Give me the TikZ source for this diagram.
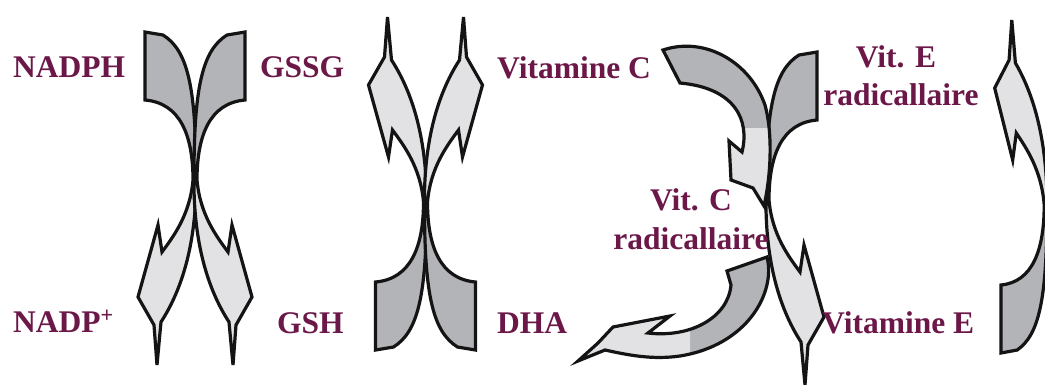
\documentclass[tikz,border=0pt]{standalone}
\usepackage{fontspec}
\setmainfont{Liberation Serif}
\definecolor{lab}{HTML}{6B1748}
\definecolor{darkf}{HTML}{B3B4B8}
\definecolor{lightf}{HTML}{E2E2E4}
\tikzset{
  outl/.style={line width=3.2pt, line join=miter, miter limit=6, draw=black!92},
  lbl/.style={text=lab, font=\fontsize{31.5}{36}\selectfont\bfseries, inner sep=0pt}
}
\newcommand\myArrowOutline{(-50,-153) -- (-32,-150) .. controls (-8,-135) and (1,-100) .. (1,-10) .. controls (2,50) and (-10,100) .. (-34,137) -- (-38,180) -- (-41,140) -- (-57,112) -- (-37,40) -- (-33,67) .. controls (-22,52) and (-5,30) .. (-2,-5) .. controls (-2,-50) and (-15,-82) .. (-50,-85) -- cycle}
\newcommand\myArrowDraw{%
  \fill[darkf] \myArrowOutline;
  \begin{scope}\clip (-120,-5) rectangle (120,220); \fill[lightf] \myArrowOutline; \end{scope}
  \draw[outl] \myArrowOutline;}
\newcommand\myVitCOutline{(663,50) .. controls (705,36) and (750,62) .. (765,105) .. controls (772,130) and (772,170) .. (764,206) -- (753,188) -- (731,180) -- (729,141) -- (742,152) .. controls (750,120) and (735,88) .. (680,83) -- cycle}
\newcommand\myDHAOutline{(727,271) -- (767,257) .. controls (776,292) and (748,345) .. (680,356) .. controls (652,360) and (628,355) .. (605,350) -- (578,361) -- (598,343) -- (613,327) -- (670,316) -- (648,333) .. controls (690,338) and (728,318) .. (731,285) -- cycle}
\begin{document}
\begin{tikzpicture}[x=1pt,y=-1pt]
\clip (0,0) rectangle (1045,384);
\fill[white] (0,0) rectangle (1045,384);
% unit 1
\begin{scope}[shift={(195,185)}]
  \myArrowDraw
  \begin{scope}[xscale=-1]\myArrowDraw\end{scope}
\end{scope}
% unit 2
\begin{scope}[shift={(425.5,197)},yscale=-1]
  \myArrowDraw
  \begin{scope}[xscale=-1]\myArrowDraw\end{scope}
\end{scope}
% unit 3 right arrow
\begin{scope}[shift={(767,205)},xscale=-1]
  \myArrowDraw
\end{scope}
% unit 3 vitamin C arrow
\fill[darkf] \myVitCOutline;
\begin{scope}\clip (650,128) rectangle (800,230); \fill[lightf] \myVitCOutline; \end{scope}
\draw[outl] \myVitCOutline;
% unit 3 DHA arrow
\fill[darkf] \myDHAOutline;
\begin{scope}\clip (560,250) rectangle (690,380); \fill[lightf] \myDHAOutline; \end{scope}
\draw[outl] \myDHAOutline;
% unit 4
\begin{scope}[shift={(1046,200)},yscale=-1,xscale=0.9]
  \myArrowDraw
\end{scope}
% labels
\node[lbl, anchor=base west] (nadph) at (13,77) {NADPH};
\node[lbl, anchor=base west] (gssg) at (260,77) {GSSG};
\node[lbl, anchor=base west] (vitc) at (497,78) {Vitamine C};
\node[lbl, anchor=base] (vite1) at (896,67) {Vit. E};
\node[lbl, anchor=base] (vite2) at (901,105) {radicallaire};
\node[lbl, anchor=base] (vitc1) at (691,210) {Vit. C};
\node[lbl, anchor=base] (vitc2) at (691,249) {radicallaire};
\node[lbl, anchor=base west] (nadp) at (13,332) {NADP\textsuperscript{+}};
\node[lbl, anchor=base west] (gsh) at (277,333) {GSH};
\node[lbl, anchor=base west] (dha) at (497,333) {DHA};
\node[lbl, anchor=base west] (vite) at (822,333) {Vitamine E};
\end{tikzpicture}
\end{document}
